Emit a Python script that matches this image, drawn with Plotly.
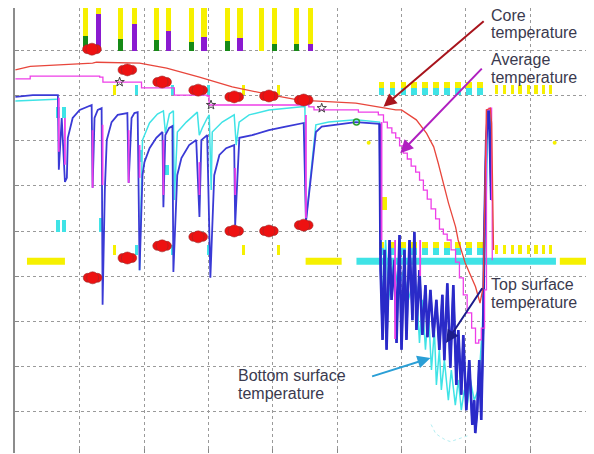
import plotly.graph_objects as go

# ---------------- data (x: time units, y: temperature units) ----------------
core_x = [0, 2.3, 12.0, 12.6, 19.3, 23.5, 28.6, 33.7, 39.9, 44.1, 52.9, 56.7, 59.1, 60.0, 62.3, 63.9,
          65.0, 65.7, 66.5, 67.3, 68.4, 68.8, 69.9, 71.5, 72.2, 72.7, 73.2, 73.8, 74.0, 74.3]
core_y = [85.8, 86.6, 87.3, 87.5, 87.3, 86.2, 84.2, 82.0, 80.2, 79.1, 78.4, 77.5, 76.9, 76.9, 74.7, 71.7,
          68.7, 65.1, 60.7, 56.2, 50.9, 48.0, 42.9, 37.6, 34.0, 37.6, 76.9, 77.3, 74.0, 45.8]

avg_x = [0, 2.3, 13.1, 13.6, 19.0, 19.6, 24.4, 24.7, 29.8, 30.1, 45.6, 46.4, 53.3, 56.4, 57.2, 57.8,
         58.5, 59.1, 59.7, 60.3, 60.9, 61.5, 62.2, 62.8, 63.4, 64.0, 64.6, 65.3, 65.9, 66.5, 67.1,
         67.7, 68.4, 69.0, 69.6, 70.2, 70.9, 71.5, 72.0, 72.4, 72.9, 73.2, 73.6, 74.0, 74.1]
avg_y = [83.8, 84.4, 84.2, 83.1, 83.1, 81.8, 81.8, 80.2, 80.0, 78.0, 77.6, 76.9, 76.4, 75.8, 74.2, 72.9,
         71.8, 70.7, 68.9, 67.3, 66.0, 64.4, 63.1, 61.3, 59.1, 57.1, 54.9, 52.7, 50.4, 49.3, 48.0,
         45.8, 43.1, 39.6, 35.8, 31.8, 28.4, 25.1, 25.8, 28.4, 36.9, 76.9, 77.3, 56.9, 43.5]

top_x = [0, 2.7, 6.6, 6.75, 7.2, 7.7, 8.0, 8.15, 8.9, 10.0, 11.85, 12.0, 12.3, 12.8, 13.4, 13.55,
         13.9, 14.2, 14.95, 15.9, 17.4, 17.6, 18.05, 18.5, 19.0, 19.3, 19.75, 20.05, 20.85, 21.9,
         22.85, 23.0, 23.3, 23.9, 24.4, 24.55, 25.15, 25.8, 27.0, 28.1, 28.6, 28.9, 29.8, 30.3,
         30.9, 31.7, 32.75, 34.0, 34.15, 34.8, 36.8, 39.4, 42.0, 44.8, 45.15, 46.7, 47.6, 52.9, 56.6,
         56.75, 57.06, 57.37, 57.68, 58.14, 58.45, 58.92, 59.23, 59.69, 60.0, 60.46, 60.77, 61.24,
         61.7, 62.0, 62.32, 62.79, 63.25, 63.72, 64.03, 64.49, 64.96, 65.42, 65.88, 66.35, 66.66,
         67.12, 67.59, 68.05, 68.52, 68.83, 69.29, 69.6, 70.07, 70.53, 71.0, 71.3, 71.46, 71.77,
         72.08, 72.39, 72.7, 72.85, 73.16, 73.47, 73.63, 73.94]
top_y = [79.8, 80.2, 80.2, 63.6, 75.1, 60.9, 61.8, 70.7, 75.1, 76.9, 78.0, 59.6, 75.1, 76.9, 77.3, 33.6,
         59.1, 70.2, 74.2, 75.8, 76.2, 60.7, 75.1, 76.2, 76.4, 41.3, 62.4, 65.3, 68.4, 70.7,
         72.0, 55.3, 71.3, 72.9, 73.3, 40.9, 62.4, 66.2, 69.1, 70.2, 53.1, 70.2, 71.3, 39.6,
         62.4, 66.9, 68.4, 69.1, 51.3, 70.7, 71.3, 72.4, 73.2, 74.0, 52.0, 72.0, 73.2, 74.2, 73.8,
         41.3, 25.8, 45.8, 23.6, 48.0, 34.7, 43.6, 25.1, 49.1, 23.6, 45.8, 25.8, 48.0,
         30.2, 49.8, 28.0, 41.3, 26.9, 38.0, 26.4, 36.9, 26.4, 34.7, 23.6, 35.8, 21.3,
         38.4, 19.6, 38.0, 15.8, 28.0, 13.6, 26.9, 10.2, 21.3, 6.9, 12.4, 5.1, 10.2,
         21.3, 8.0, 28.0, 48.0, 70.2, 76.9, 76.4, 56.9]
quench_start = 58   # index where the final quench (chaotic part) begins

bottom_x = [0, 3.8, 6.44, None, 19.29, 19.75, 20.84, 22.07, 23.0, 23.31, 23.93, 24.55, 24.7, 25.17, 26.56,
            28.27, 28.58, 29.04, 29.81, 30.12, 30.43, 30.59, 32.14, 34.0, 34.31, 34.77, 36.32, 39.41,
            44.52, 44.99, 45.14, 46.69, 48.7, 52.88, 56.6,
            56.75, 57.06, 57.53, 57.99, 58.76, 59.53, 60.3, 61.08, 61.85, 62.32, 62.79, 63.25, 63.72,
            64.18, 64.65, 65.11, 65.42, 65.88, 66.19, 66.66, 67.28, 67.74, 68.36, 68.83, 69.29, 69.76,
            70.22, 70.69, 71.3, 71.92, 72.54, 73.0, 73.32, 73.47]
bottom_y = [78.9, 79.1, 79.3, None, 41.3, 70.2, 74.0, 76.0, 76.7, 71.8, 76.0, 76.7, 56.9, 72.0, 74.2,
            76.4, 71.3, 72.9, 75.1, 75.8, 59.1, 72.0, 74.2, 75.8, 69.1, 74.2, 75.8, 76.9,
            77.6, 77.6, 52.0, 73.6, 74.2, 74.7, 74.2,
            48.7, 34.0, 48.0, 34.7, 43.6, 36.9, 41.3, 34.7, 39.1, 37.6, 25.1, 34.7, 23.6,
            32.4, 19.1, 28.0, 15.8, 23.6, 14.7, 21.3, 12.4, 19.1, 11.3, 16.9, 10.2, 14.7,
            11.3, 16.9, 12.4, 14.7, 28.0, 48.0, 70.2, 75.8]

# faint scattered bottom-surface readings below the quench
faint_x = [64.6, 65.3, 66.0, 66.8, 67.6, 68.5, 69.4, 70.3]
faint_y = [7.0, 5.0, 4.3, 3.6, 3.2, 3.6, 4.0, 4.5]

# magenta parts of the quench spikes: x, upper y, lower y
spike_x = [6.75, 7.7, 12.0, 13.55, 17.6, 19.3, 23.0, 28.6, 34.15, 45.15, 56.9, 59.0, 62.9]
spike_hi = [79.6, 75.1, 72.4, 73.6, 72.4, 69.1, 70.2, 65.3, 64.0, 75.8, 74.2, 48.0, 48.0]
spike_lo = [67.6, 64.7, 59.6, 60.2, 60.7, 61.8, 58.0, 58.0, 58.0, 52.9, 48.0, 26.0, 40.0]

# pass markers (red)
pass_upper_x = [11.9, 17.4, 22.8, 28.4, 34.0, 39.4, 44.8]
pass_upper_y = [90.4, 85.8, 83.1, 81.3, 79.8, 80.0, 79.1]
pass_lower_x = [12.0, 17.4, 22.8, 28.4, 34.0, 39.4, 44.8]
pass_lower_y = [39.6, 44.0, 46.7, 48.7, 50.0, 50.0, 51.3]

# stacked indicator bars at the top
green_x = [10.9, 16.3, 21.9, 27.3, 32.9, 40.3, 43.7]
green_h = [3.3, 2.7, 2.4, 2.0, 2.2, 1.6, 1.6]
purple_x = [12.9, 18.5, 23.8, 29.3, 34.9, 45.9]
purple_h = [8.2, 6.0, 4.4, 3.1, 2.9, 1.6]
plain_x = [38.3]
bar_base = 90.0
bar_top = 99.5

# event flags
event_yellow_x = [15.4, 35.4, 40.9]
event_cyan_x = [18.8, 24.4, 30.0]
seq_x = [56.9, 58.6, 60.3, 62.0, 63.7, 65.4, 67.1, 68.8, 70.5, 72.2]
seq2_x = [74.7, 76.0, 77.2, 78.4, 79.7, 80.9, 82.1, 83.2]
row_levels = [80.2, 44.7]

# cyan small marks near spikes
cmark_x = [6.6, 7.5, 6.6, 7.5, 13.3, 19.3, 23.5]
cmark_base = [75.1, 75.1, 49.8, 49.8, 49.8, 65.3, 62.5]
cmark_h = [2.5, 2.5, 2.6, 2.6, 3.1, 2.7, 2.2]

# thick horizontal dashes
yellow_dash = [(1.8, 7.7), (45.1, 50.7), (84.6, 89.6)]
cyan_dash = [(53.0, 84.0)]
dash_y = 43.3

star_x = [16.2, 30.4, 47.6]
star_y = [83.1, 78.0, 77.3]
ydot_x = [54.9, 83.8]
ydot_y = [69.6, 69.6]

RED = "#e8463c"
MAG = "#ee3ee8"
BLUE = "#3a3ad6"
DBLUE = "#2a2ac8"
CYAN = "#3fe3e6"
YEL = "#f6f000"
GRN = "#168a16"
PUR = "#8a1ad0"

fig = go.Figure()

def vbars(xs, base, heights, color, width):
    fig.add_trace(go.Bar(x=xs, y=heights, base=base, width=width,
                         marker=dict(color=color, line=dict(width=0)), hoverinfo="skip"))

# top stacked bars
vbars(green_x, bar_base, green_h, GRN, 0.8)
vbars(green_x, [bar_base + h for h in green_h], [bar_top - bar_base - h for h in green_h], YEL, 0.8)
vbars(purple_x, bar_base, purple_h, PUR, 0.8)
vbars(purple_x, [bar_base + h for h in purple_h], [bar_top - bar_base - h for h in purple_h], YEL, 0.8)
vbars(plain_x, bar_base, [bar_top - bar_base], YEL, 0.8)

# event rows
for lv in row_levels:
    vbars(event_yellow_x, lv, [2.2] * len(event_yellow_x), YEL, 0.5)
    vbars(event_cyan_x, lv, [2.2] * len(event_cyan_x), CYAN, 0.5)
    vbars(seq_x, lv, [1.6] * len(seq_x), CYAN, 0.9)
    vbars(seq_x, lv + 1.6, [1.2] * len(seq_x), YEL, 0.9)
    vbars(seq2_x, lv + 0.2, [2.1] * len(seq2_x), YEL, 0.5)

vbars(cmark_x, cmark_base, cmark_h, CYAN, 0.6)
vbars([57.3], 54.6, [2.9], YEL, 0.8)

def hdash(segs, color):
    xs, ys = [], []
    for a, b in segs:
        xs += [a, b, None]
        ys += [dash_y, dash_y, None]
    fig.add_trace(go.Scatter(x=xs, y=ys, mode="lines", line=dict(color=color, width=7), hoverinfo="skip"))

hdash(yellow_dash, YEL)
hdash(cyan_dash, CYAN)

# temperature curves
fig.add_trace(go.Scatter(x=faint_x, y=faint_y, mode="lines", line=dict(color="#b4eef2", width=1, dash="dot")))
fig.add_trace(go.Scatter(x=bottom_x, y=bottom_y, mode="lines", line=dict(color=CYAN, width=1.5)))
fig.add_trace(go.Scatter(x=top_x, y=top_y, mode="lines", line=dict(color=BLUE, width=1.8)))
fig.add_trace(go.Scatter(x=top_x[quench_start:], y=top_y[quench_start:], mode="lines",
                         line=dict(color=DBLUE, width=2.6)))

sx, sy = [], []
for x, hi, lo in zip(spike_x, spike_hi, spike_lo):
    sx += [x, x, None]
    sy += [hi, lo, None]
fig.add_trace(go.Scatter(x=sx, y=sy, mode="lines", line=dict(color=MAG, width=1.8)))

fig.add_trace(go.Scatter(x=avg_x, y=avg_y, mode="lines", line=dict(color=MAG, width=1.3, shape="hv")))
fig.add_trace(go.Scatter(x=core_x, y=core_y, mode="lines", line=dict(color=RED, width=1.3)))

# pass markers (lip-shaped red ellipses built from three overlapping dots)
LIP = 0.75
for xs, ys in [(pass_upper_x, pass_upper_y), (pass_lower_x, pass_lower_y)]:
    for off, sz in [(-LIP, 9), (LIP, 9), (0, 12)]:
        fig.add_trace(go.Scatter(x=[v + off for v in xs], y=ys, mode="markers",
                                 marker=dict(symbol="circle", size=sz, color="#ee1111",
                                             line=dict(color="#9a2a2a", width=0.6))))

fig.add_trace(go.Scatter(x=star_x, y=star_y, mode="markers",
                         marker=dict(symbol="star-open", size=7, color="#444444", line=dict(width=1))))
fig.add_trace(go.Scatter(x=ydot_x, y=ydot_y, mode="markers",
                         marker=dict(symbol="circle", size=4, color=YEL)))
fig.add_trace(go.Scatter(x=[53.0], y=[74.2], mode="markers",
                         marker=dict(symbol="circle-open", size=6, color="#2aa02a", line=dict(width=1.5))))

# annotations
TXT = "#3a3a4e"
FONT = dict(family="Liberation Sans, Arial, sans-serif", size=16, color=TXT)
labels = [
    ("Core", 73.8, 97.9), ("temperature", 73.8, 94.0),
    ("Average", 73.8, 88.1), ("temperature", 73.8, 84.1),
    ("Top surface", 73.8, 38.1), ("temperature", 73.8, 34.1),
    ("Bottom surface", 34.5, 17.8), ("temperature", 34.5, 13.8),
]
for t, x, y in labels:
    fig.add_annotation(x=x, y=y, text=t, showarrow=False, xanchor="left", yanchor="middle",
                       font=FONT, borderpad=0)

arrows = [
    ((73.0, 96.9), (57.2, 77.6), "#a8141c"),
    ((72.7, 86.4), (59.8, 67.3), "#b020c0"),
    ((72.7, 37.6), (66.9, 25.1), "#1c1c8c"),
    ((55.2, 17.6), (64.5, 21.8), "#2a9fd6"),
]
for (tx, ty), (hx, hy), c in arrows:
    fig.add_annotation(x=hx, y=hy, ax=tx, ay=ty, axref="x", ayref="y", xref="x", yref="y",
                       text="", showarrow=True, arrowhead=2, arrowsize=1.3, arrowwidth=2, arrowcolor=c)

grid = dict(showgrid=True, gridcolor="#9a9a9a", griddash="dot", gridwidth=1, zeroline=False,
            showticklabels=False, ticks="inside", ticklen=4, tickcolor="#888888")
fig.update_xaxes(range=[-0.06, 89.6], tickvals=[10, 20, 30, 40, 50, 60, 70, 80], showline=False, **grid)
fig.update_yaxes(range=[0.67, 99.55], tickvals=[10, 20, 30, 40, 50, 60, 70, 80, 90],
                 showline=True, linecolor="#8c8c8c", linewidth=2, mirror="ticks", **grid)

# the page adds an 8px body margin, so the figure is sized to end at the window edge
fig.update_layout(width=586, height=446, margin=dict(l=7, r=0, t=0, b=1),
                  paper_bgcolor="white", plot_bgcolor="white", showlegend=False,
                  barmode="overlay", bargap=0)

fig.write_html("out.html")
